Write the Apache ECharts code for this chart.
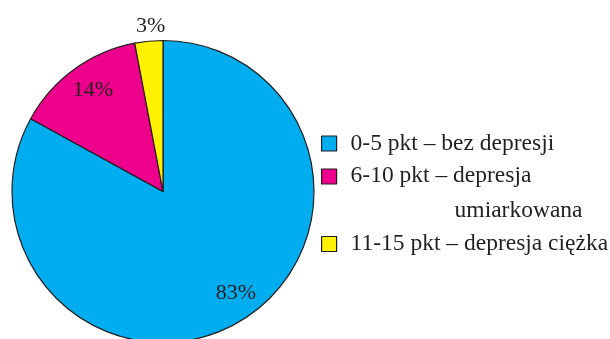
<!DOCTYPE html>
<html>
<head>
<meta charset="utf-8">
<script src="https://cdn.jsdelivr.net/npm/echarts@6/dist/echarts.min.js"></script>
<style>
html, body { margin: 0; padding: 0; background: #fff; }
#main { width: 610px; height: 339px; }
</style>
</head>
<body>
<div id="main"></div>
<script>
// dane
var categories = ['0-5 pkt – bez depresji', '6-10 pkt – depresja umiarkowana', '11-15 pkt – depresja ciężka'];
var values = [83, 14, 3];
var colors = ['#00AEEF', '#EC008C', '#FFF200'];

var font = 'Liberation Serif';
var ink = '#231F20';
// przesuniecie etykiet wzgledem srodka wycinka
var labelOffsets = [[33, 34], [-24, -38], [-5, -87]];

var pieData = categories.map(function (name, i) {
	return {
		name: name,
		value: values[i],
		itemStyle: { color: colors[i] },
		label: { offset: labelOffsets[i] }
	};
});

function legendItem(idx, top, rich, formatter) {
	return {
		data: [categories[idx]],
		orient: 'vertical',
		left: 321,
		top: top,
		padding: 0,
		itemWidth: 15,
		itemHeight: 15,
		icon: 'rect',
		selectedMode: false,
		itemStyle: { borderColor: ink, borderWidth: 1.2 },
		formatter: formatter,
		textStyle: {
			color: ink,
			fontFamily: font,
			fontSize: 23.5,
			rich: rich
		}
	};
}

var singleRich = { a: { fontFamily: font, fontSize: 23.5, color: ink, lineHeight: 30, padding: [0, 0, 0, 9] } };
var singleFmt = function (name) { return '{a|' + name + '}'; };
// druga pozycja ma dwie linie, pierwsza wyrownana do kwadratu
var doubleRich = {
	a: { fontFamily: font, fontSize: 23.5, color: ink, lineHeight: 68, padding: [0, 0, 0, 9] },
	b: { fontFamily: font, fontSize: 23.5, color: ink, lineHeight: 1, padding: [0, 0, 0, 113] }
};
var doubleFmt = function (name) {
	var cut = name.lastIndexOf(' ');
	return '{a|' + name.slice(0, cut) + '}\n{b|' + name.slice(cut + 1) + '}';
};

var option = {
	animation: false,
	backgroundColor: '#fff',
	legend: [
		legendItem(0, 131.5, singleRich, singleFmt),
		legendItem(1, 164, doubleRich, doubleFmt),
		legendItem(2, 232, singleRich, singleFmt)
	],
	series: [{
		type: 'pie',
		center: [163, 191.5],
		radius: 151,
		startAngle: 90,
		clockwise: true,
		silent: true,
		itemStyle: { borderColor: ink, borderWidth: 1.2 },
		label: {
			show: true,
			position: 'inside',
			formatter: '{c}%',
			fontFamily: font,
			fontSize: 22,
			color: ink
		},
		labelLine: { show: false },
		data: pieData
	}]
};

echarts.init(document.getElementById('main')).setOption(option);
</script>
</body>
</html>
